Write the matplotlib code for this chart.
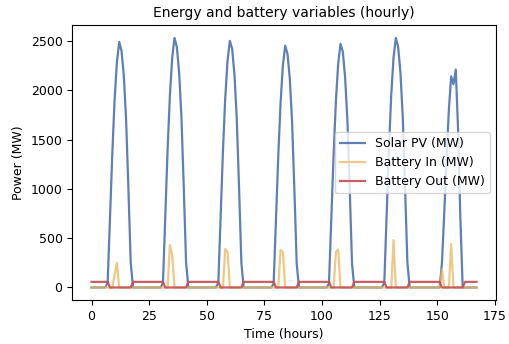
import numpy as np
import matplotlib
matplotlib.use("Agg")
import matplotlib.pyplot as plt

# hours 0..167 (one week, hourly)
n_hours = 168
day_start_hour = 7   # first daylight hour in each day profile

# solar PV output for daylight hours 7..17 of each day (MW)
solar_days = [
    [50, 700, 1350, 1900, 2280, 2490, 2400, 2150, 1700, 1000, 250],
    [50, 720, 1400, 1950, 2330, 2530, 2440, 2180, 1730, 1020, 260],
    [50, 700, 1380, 1920, 2300, 2500, 2420, 2160, 1710, 1010, 250],
    [40, 680, 1330, 1870, 2250, 2450, 2370, 2120, 1680, 990, 240],
    [40, 690, 1340, 1890, 2270, 2470, 2390, 2130, 1690, 1000, 240],
    [50, 720, 1400, 1950, 2330, 2530, 2440, 2180, 1730, 1020, 260],
    [0, 250, 750, 1300, 1800, 2140, 2060, 2210, 1600, 700, 0],
]

# battery charging (MW), only non-zero hours listed
batt_in_hours = [10, 11, 34, 35, 58, 59, 82, 83, 106, 107, 131, 152, 156]
batt_in_vals = [125, 250, 430, 320, 390, 360, 380, 360, 360, 385, 480, 180, 440]

# battery discharge profile for one day (MW), same every day
batt_out_day = [57, 57, 57, 57, 57, 57, 57, 57, 0, 0, 0, 0,
                0, 0, 0, 0, 0, 0, 57, 57, 57, 57, 57, 57]

hours = np.arange(n_hours)
solar = np.zeros(n_hours)
for d, vals in enumerate(solar_days):
    start = d * 24 + day_start_hour
    solar[start:start + len(vals)] = vals

batt_in = np.zeros(n_hours)
batt_in[batt_in_hours] = batt_in_vals

batt_out = np.tile(batt_out_day, 7)

fig, ax = plt.subplots(figsize=(5.09, 3.44), dpi=100)
fig.subplots_adjust(left=0.142, right=0.974, top=0.926, bottom=0.128)

ax.plot(hours, solar, color="#4c72b0", alpha=0.9, lw=1.6, label="Solar PV (MW)")
ax.plot(hours, batt_in, color="#e8b85c", alpha=0.75, lw=1.6, label="Battery In (MW)")
ax.plot(hours, batt_out, color="#c44e52", alpha=0.9, lw=1.6, label="Battery Out (MW)")

ax.set_title("Energy and battery variables (hourly)", fontsize=10)
ax.set_xlabel("Time (hours)", fontsize=9)
ax.set_ylabel("Power (MW)", fontsize=9)
ax.tick_params(labelsize=9)
ax.legend(loc="center right", fontsize=9)

fig.savefig("out.png", dpi=100)
